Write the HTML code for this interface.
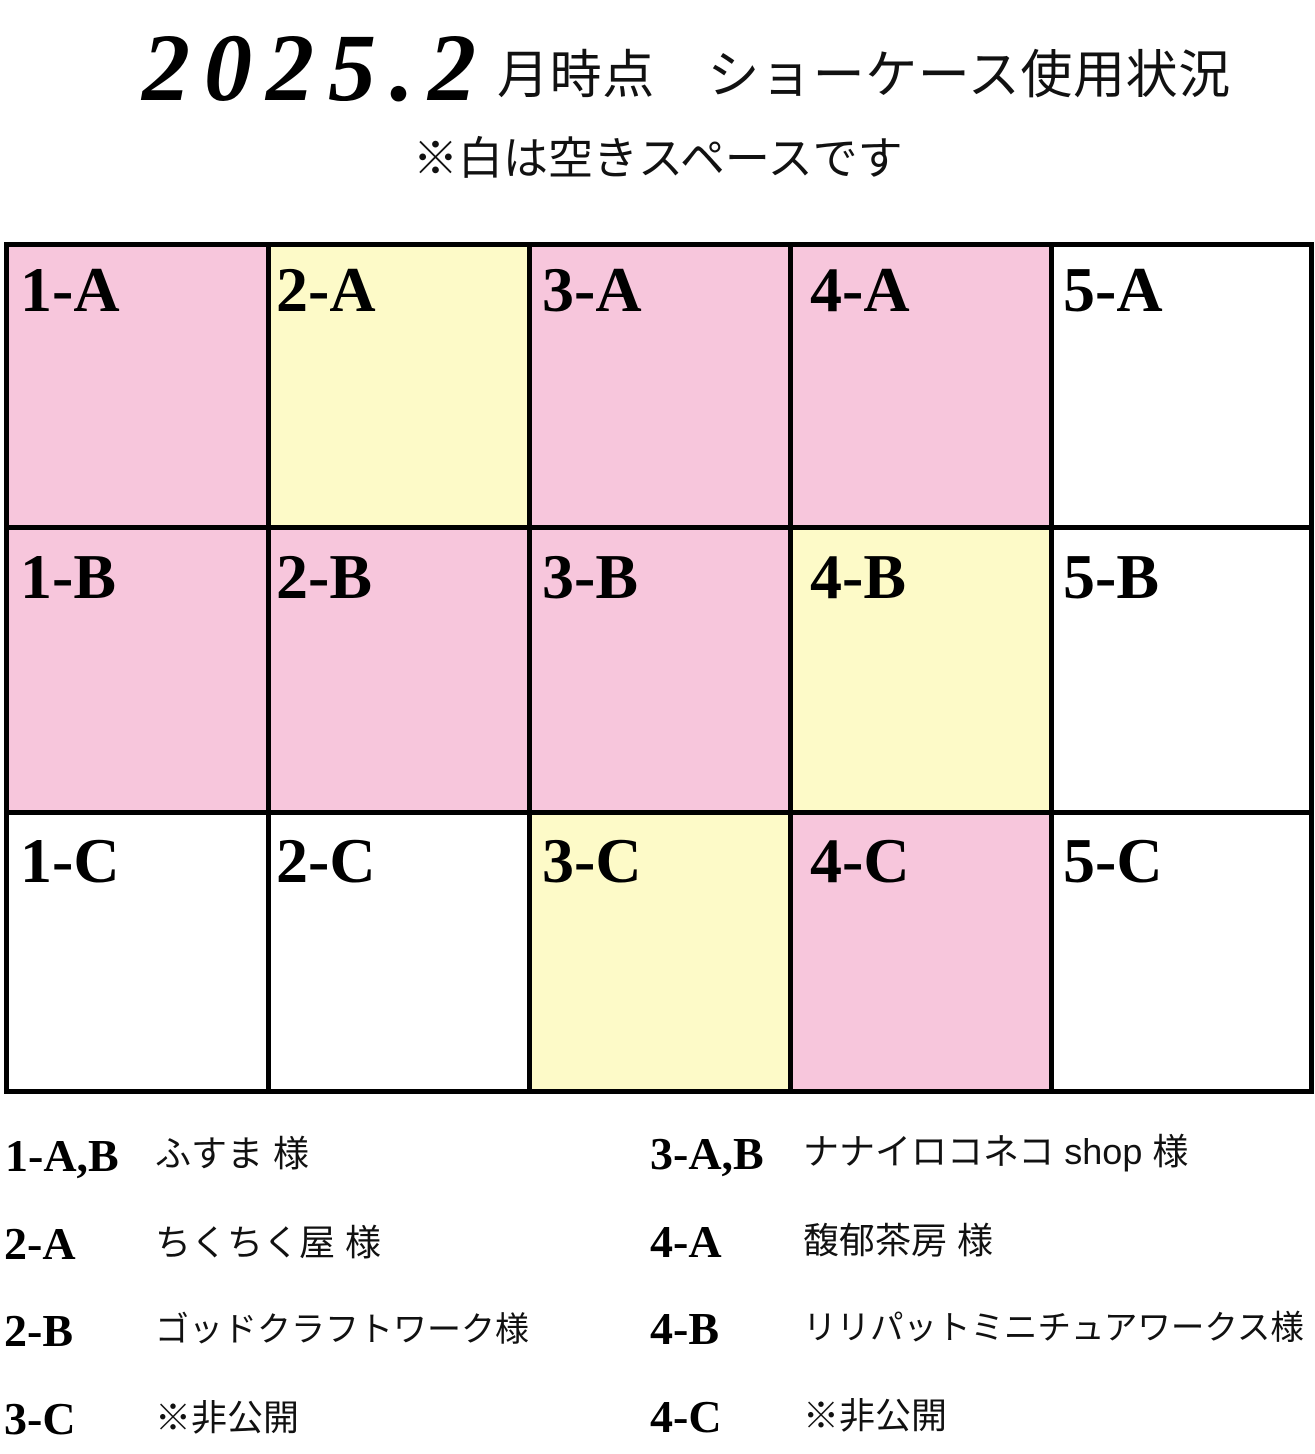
<!DOCTYPE html>
<html><head><meta charset="utf-8"><style>
body{margin:0;width:1315px;height:1454px;background:#fff;position:relative;overflow:hidden}
div{position:absolute}
.s{font-family:"Liberation Serif",serif;font-weight:bold;line-height:1;white-space:nowrap}
.j{font-family:"Liberation Sans","Noto Sans CJK JP",sans-serif;line-height:1;white-space:nowrap;color:#111}
.p{background:#f7c6dc}.y{background:#fdfac8}
.h{background:#000;height:5px;left:4px;width:1310px}
.v{background:#000;width:5px;top:242px;height:852px}
.l{font-size:64px}
.lg{font-size:46px}
.n{font-size:36px}
</style></head><body>
<div class="s" style="left:142px;top:20px;font-size:96px;font-style:italic;letter-spacing:14px">2025.2</div>
<div class="j" style="left:497px;top:50px;font-size:52px;letter-spacing:0.6px">月時点　ショーケース使用状況</div>
<div class="j" style="left:413px;top:136px;font-size:45px">※白は空きスペースです</div>

<div class="p" style="left:9px;top:247px;width:257px;height:278px"></div>
<div class="y" style="left:271px;top:247px;width:256px;height:278px"></div>
<div class="p" style="left:532px;top:247px;width:256px;height:278px"></div>
<div class="p" style="left:793px;top:247px;width:256px;height:278px"></div>
<div class="p" style="left:9px;top:530px;width:257px;height:280px"></div>
<div class="p" style="left:271px;top:530px;width:256px;height:280px"></div>
<div class="p" style="left:532px;top:530px;width:256px;height:280px"></div>
<div class="y" style="left:793px;top:530px;width:256px;height:280px"></div>
<div class="y" style="left:532px;top:815px;width:256px;height:274px"></div>
<div class="p" style="left:793px;top:815px;width:256px;height:274px"></div>

<div class="h" style="top:242px"></div>
<div class="h" style="top:525px"></div>
<div class="h" style="top:810px"></div>
<div class="h" style="top:1089px"></div>
<div class="v" style="left:4px"></div>
<div class="v" style="left:266px"></div>
<div class="v" style="left:527px"></div>
<div class="v" style="left:788px"></div>
<div class="v" style="left:1049px"></div>
<div class="v" style="left:1309px"></div>

<div class="s l" style="left:20px;top:258px">1-A</div>
<div class="s l" style="left:276px;top:258px">2-A</div>
<div class="s l" style="left:542px;top:258px">3-A</div>
<div class="s l" style="left:810px;top:258px">4-A</div>
<div class="s l" style="left:1063px;top:258px">5-A</div>
<div class="s l" style="left:20px;top:545px">1-B</div>
<div class="s l" style="left:276px;top:545px">2-B</div>
<div class="s l" style="left:542px;top:545px">3-B</div>
<div class="s l" style="left:810px;top:545px">4-B</div>
<div class="s l" style="left:1063px;top:545px">5-B</div>
<div class="s l" style="left:20px;top:829px">1-C</div>
<div class="s l" style="left:276px;top:829px">2-C</div>
<div class="s l" style="left:542px;top:829px">3-C</div>
<div class="s l" style="left:810px;top:829px">4-C</div>
<div class="s l" style="left:1063px;top:829px">5-C</div>

<div class="s lg" style="left:5px;top:1133px">1-A,B</div>
<div class="j n" style="left:155px;top:1136px">ふすま 様</div>
<div class="s lg" style="left:4px;top:1221px">2-A</div>
<div class="j n" style="left:155px;top:1225px">ちくちく屋 様</div>
<div class="s lg" style="left:4px;top:1308px">2-B</div>
<div class="j n" style="left:155px;top:1313px;font-size:34px">ゴッドクラフトワーク様</div>
<div class="s lg" style="left:4px;top:1396px">3-C</div>
<div class="j n" style="left:155px;top:1400px">※非公開</div>

<div class="s lg" style="left:650px;top:1131px">3-A,B</div>
<div class="j n" style="left:803px;top:1134px">ナナイロコネコ shop 様</div>
<div class="s lg" style="left:650px;top:1219px">4-A</div>
<div class="j n" style="left:803px;top:1223px">馥郁茶房 様</div>
<div class="s lg" style="left:650px;top:1306px">4-B</div>
<div class="j n" style="left:803px;top:1312px;font-size:33.5px">リリパットミニチュアワークス様</div>
<div class="s lg" style="left:650px;top:1394px">4-C</div>
<div class="j n" style="left:803px;top:1398px">※非公開</div>
</body></html>
